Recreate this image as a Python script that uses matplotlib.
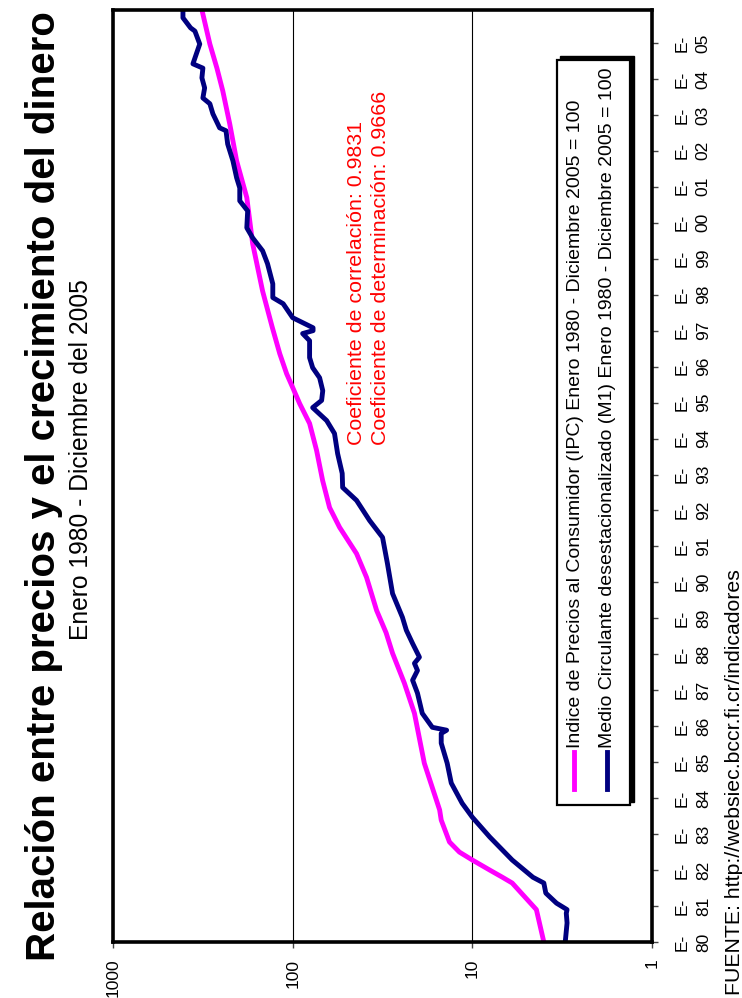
import matplotlib
matplotlib.use("Agg")
import matplotlib.pyplot as plt
from matplotlib.patches import Rectangle

plt.rcParams['font.family'] = ['Liberation Sans', 'DejaVu Sans']

# serie IPC (indice, escala log)
ipc_t = [1980.0, 1980.9, 1981.64, 1981.8, 1982.0, 1982.28, 1982.5, 1982.78, 1983.39, 1983.67,
         1984.97, 1986.36, 1987.2, 1988.03, 1988.6, 1989.22, 1990.14, 1990.8, 1991.53, 1992.08,
         1992.83, 1993.67, 1994.42, 1994.97, 1995.42, 1995.8, 1996.36, 1997.1, 1998.1, 1999.42,
         2000.7, 2001.72, 2002.75, 2003.67, 2004.3, 2004.97, 2005.92]
ipc_v = [4.0, 4.4, 6.0, 6.8, 8.0, 10.0, 11.8, 13.4, 14.9, 15.2,
         18.5, 21.0, 23.9, 27.8, 30.2, 34.1, 38.8, 44.1, 54.8, 62.3,
         68.1, 73.6, 80.5, 91.4, 100, 108, 118, 130, 147, 167,
         180, 205, 224, 245, 264, 289, 320]

# serie M1
m1_t = [1980.0, 1980.53, 1980.8, 1980.9, 1981.08, 1981.36, 1981.64, 1981.8, 1982.28, 1982.92,
        1983.47, 1983.86, 1984.42, 1984.97, 1985.53, 1985.8, 1985.89, 1985.97, 1986.36, 1986.92,
        1987.28, 1987.55, 1987.75, 1987.92, 1988.3, 1988.67, 1989.03, 1989.69, 1990.53, 1991.25,
        1991.72, 1992.28, 1992.64, 1993.03, 1993.58, 1994.14, 1994.5, 1994.86, 1995.06, 1995.33,
        1995.69, 1995.97, 1996.25, 1996.72, 1996.92, 1997.0, 1997.08, 1997.36, 1997.75, 1997.92,
        1998.3, 1998.86, 1999.22, 1999.58, 1999.86, 2000.33, 2000.61, 2000.97, 2001.25, 2001.72,
        2002.19, 2002.56, 2002.64, 2003.03, 2003.31, 2003.47, 2003.75, 2004.03, 2004.3, 2004.42,
        2004.97, 2005.33, 2005.42, 2005.7, 2005.92]
m1_v = [3.04, 2.97, 3.0, 2.97, 3.4, 3.9, 4.0, 4.6, 6.0, 8.0,
        10.0, 11.4, 13.1, 13.8, 14.9, 14.9, 13.9, 16.7, 19.0, 20.2,
        21.5, 20.2, 21.0, 19.7, 21.5, 23.3, 24.5, 27.8, 29.7, 31.6,
        37.3, 44.1, 52.7, 53, 56.2, 58.5, 64.7, 77.4, 69, 68,
        70.8, 77.4, 80.5, 80.5, 88, 77, 77, 100, 113, 129,
        129, 138, 147, 167, 180, 178, 197, 197, 205, 215,
        230, 235, 255, 278, 289, 316, 309, 320, 316, 359,
        329, 350, 370, 408, 408]

years = list(range(1980, 2006))
year_labels = ["E-\n%02d" % (y % 100) for y in years]
log_ticks = [1, 10, 100, 1000]
log_labels = ["1", "10", "100", "1000"]

leg_ipc = "Indice de Precios al Consumidor (IPC) Enero 1980 - Diciembre 2005 = 100"
leg_m1 = "Medio Circulante desestacionalizado (M1) Enero 1980 - Diciembre 2005 = 100"

W, H = 742, 998
fig = plt.figure(figsize=(W / 100, H / 100), dpi=100)

def fx(px):
    return px / W

def fy(py):
    return 1 - py / H

ax = fig.add_axes([fx(113), fy(942), fx(652) - fx(113), fy(10) - fy(942)])
ax.plot(ipc_v, ipc_t, color="#FF00FF", lw=3.5, solid_capstyle="butt")
ax.plot(m1_v, m1_t, color="#000080", lw=3.5, solid_capstyle="butt")

ax.set_xscale("log")
ax.set_xlim(1000, 1)
ax.set_ylim(1980, 2005 + 11 / 12)
ax.set_xticks(log_ticks)
ax.set_xticklabels(log_labels, rotation=90, fontsize=12.5)
ax.xaxis.set_minor_locator(matplotlib.ticker.NullLocator())
ax.grid(axis="x", which="major", color="black", lw=0.8)

ax.yaxis.tick_right()
ax.set_yticks(years)
ax.set_yticklabels(year_labels, rotation=90, fontsize=12.5, va="center", ha="left",
                   multialignment="center", linespacing=1.55)
ax.tick_params(axis="both", direction="out", length=4, width=1, color="#444444")
ax.tick_params(axis="y", pad=12)
ax.tick_params(axis="x", pad=8)
for s in ax.spines.values():
    s.set_linewidth(2.6)

# titulos
fig.text(fx(44), fy(486), "Relación entre precios y el crecimiento del dinero",
         rotation=90, ha="center", va="center", fontsize=29, fontweight="bold")
fig.text(fx(81), fy(460), "Enero 1980 - Diciembre del 2005",
         rotation=90, ha="center", va="center", fontsize=17.7)
fig.text(fx(734), fy(995), "FUENTE: http://websiec.bccr.fi.cr/indicadores",
         rotation=90, ha="center", va="bottom", fontsize=15.3)

# coeficientes
fig.text(fx(357), fy(445), "Coeficiente de correlación: 0.9831",
         rotation=90, ha="center", va="bottom", fontsize=15.4, color="red")
fig.text(fx(381), fy(445), "Coeficiente de determinación: 0.9666",
         rotation=90, ha="center", va="bottom", fontsize=15.4, color="red")

# leyenda
fig.patches.append(Rectangle((fx(560), fy(802)), fx(634) - fx(560), fy(56) - fy(802),
                             transform=fig.transFigure, facecolor="black", edgecolor="black",
                             zorder=5))
fig.patches.append(Rectangle((fx(557), fy(805)), fx(630) - fx(557), fy(60) - fy(805),
                             transform=fig.transFigure, facecolor="white", edgecolor="black",
                             lw=1.6, zorder=6))
fig.lines.append(plt.Line2D([fx(574), fx(574)], [fy(752), fy(789)], transform=fig.transFigure,
                            color="#FF00FF", lw=3.5, zorder=7))
fig.lines.append(plt.Line2D([fx(607), fx(607)], [fy(752), fy(789)], transform=fig.transFigure,
                            color="#000080", lw=3.5, zorder=7))
fig.text(fx(575), fy(748), leg_ipc, rotation=90, ha="center", va="bottom",
         fontsize=14, zorder=8)
fig.text(fx(608), fy(748), leg_m1, rotation=90, ha="center", va="bottom",
         fontsize=14, zorder=8)

fig.savefig("out.png", dpi=100)
